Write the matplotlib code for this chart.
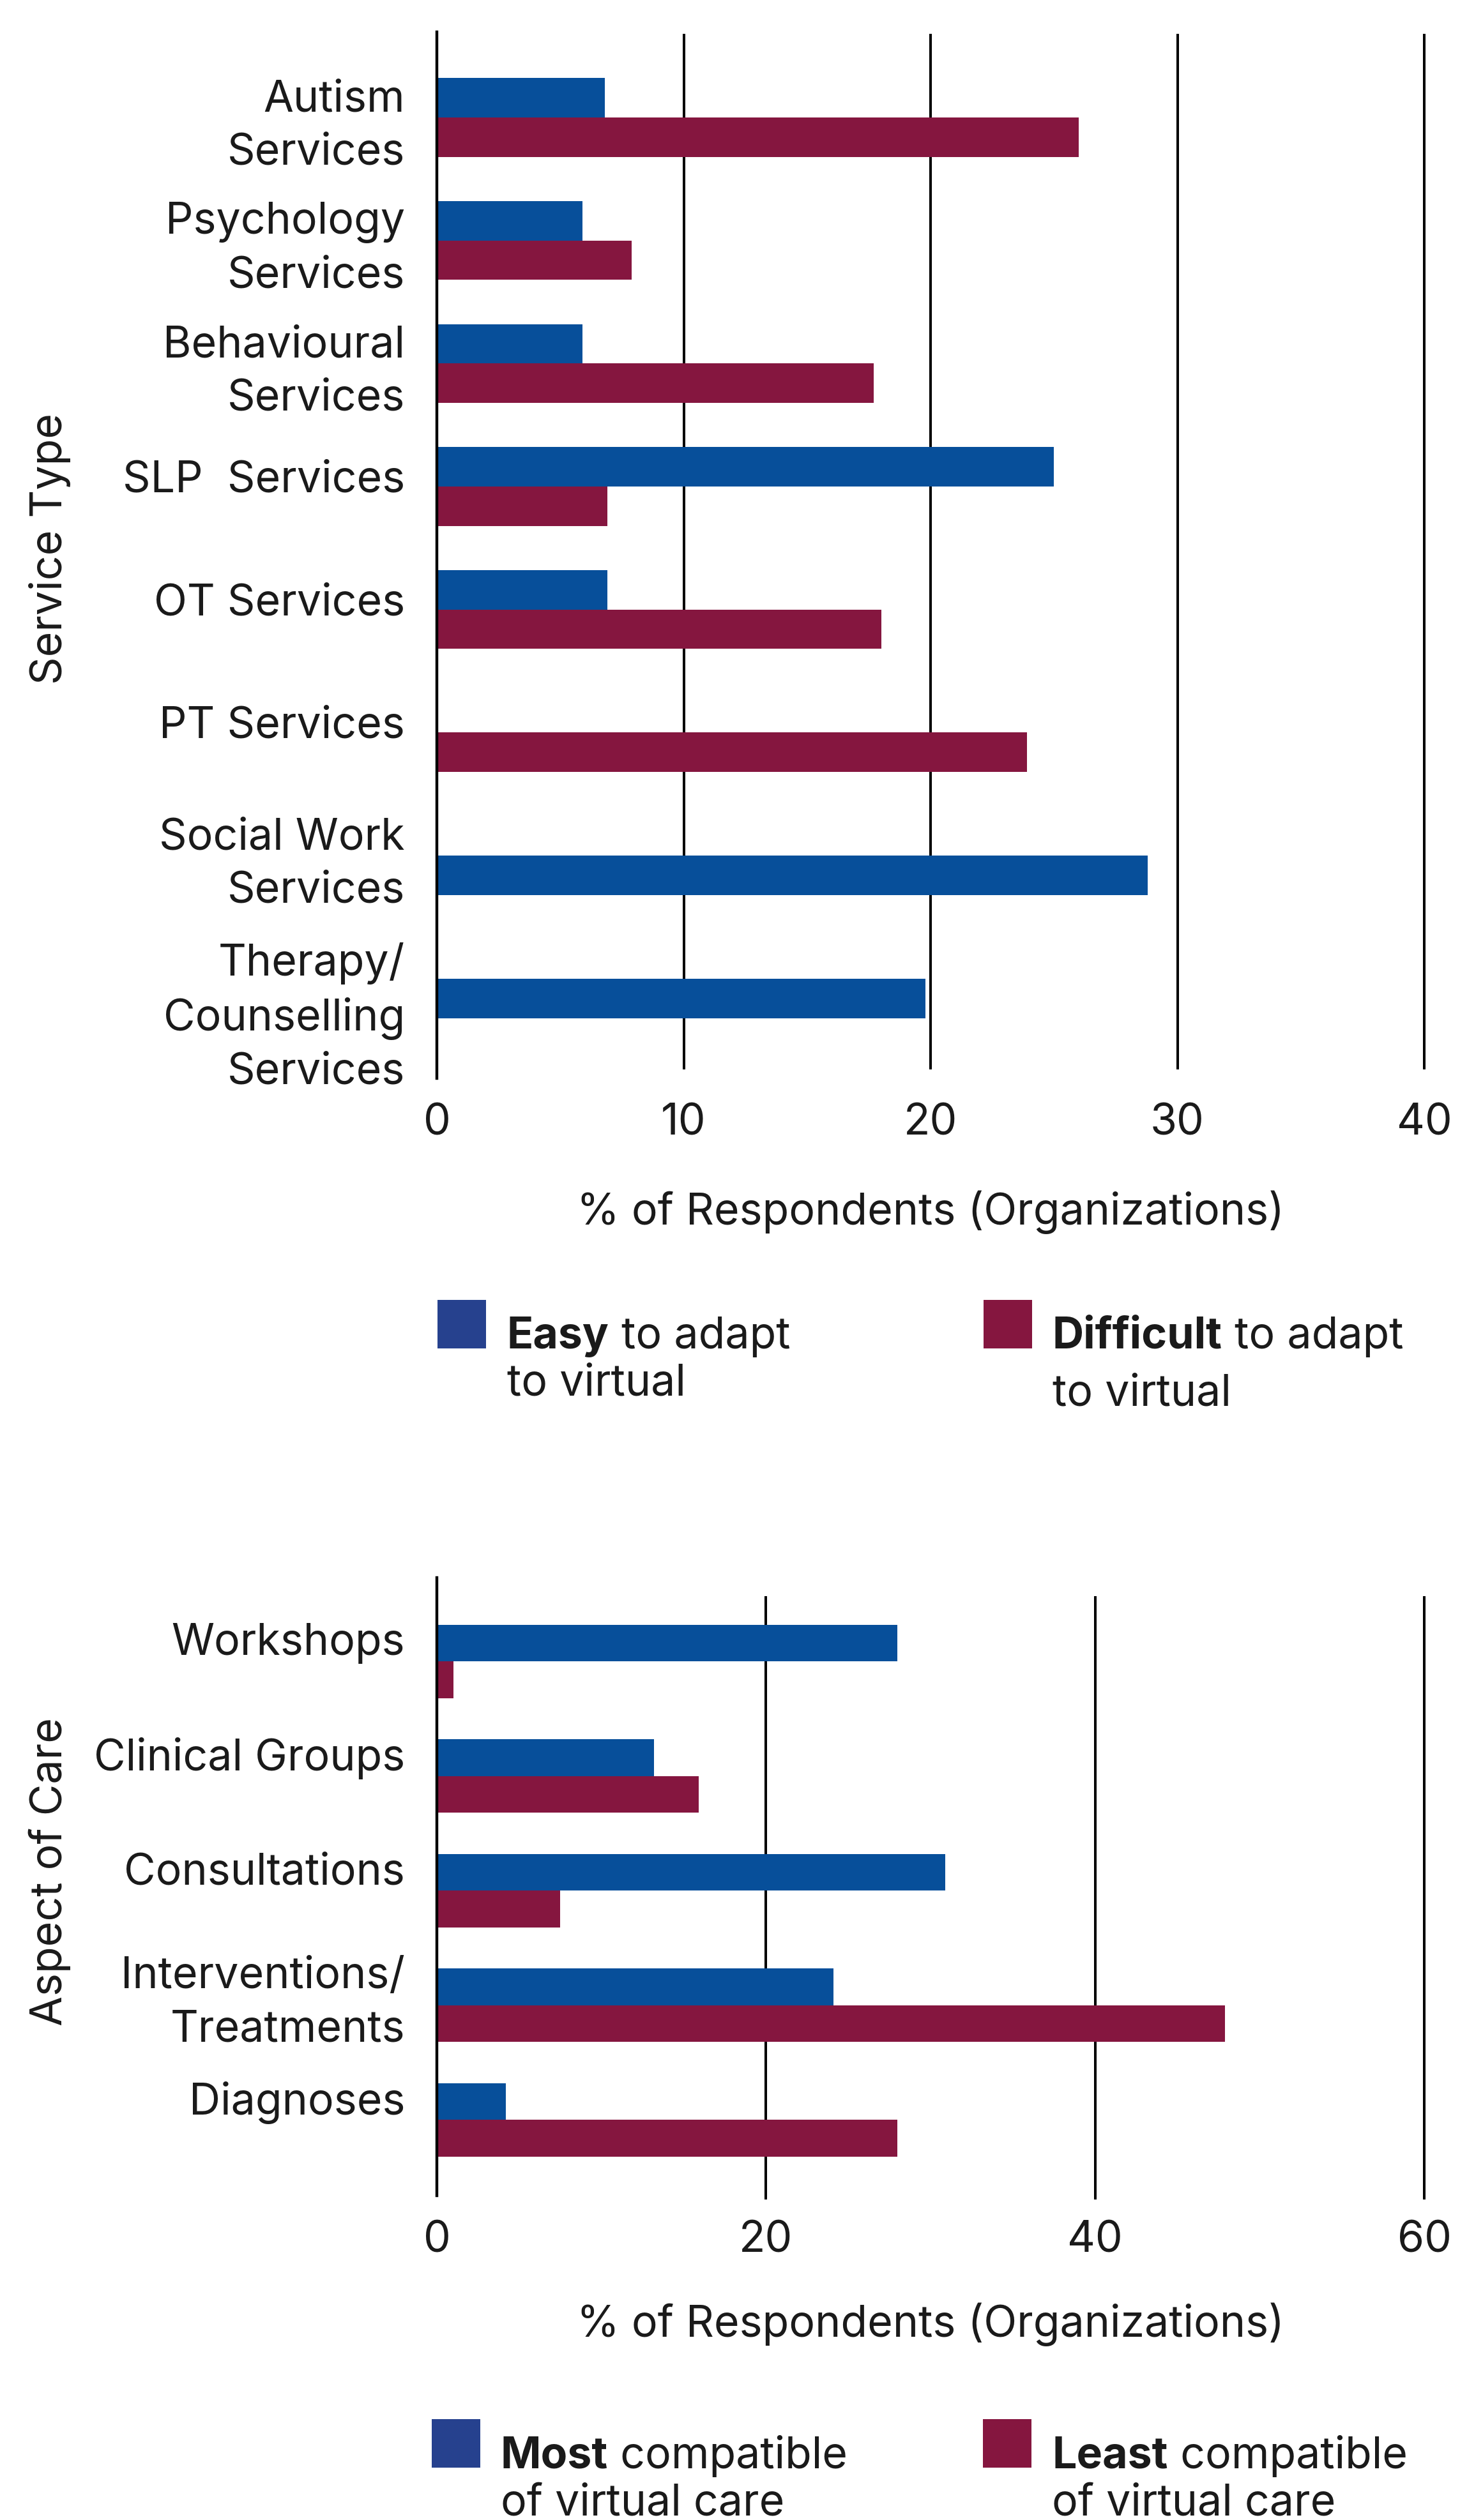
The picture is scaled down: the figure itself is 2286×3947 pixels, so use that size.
import numpy as np
import matplotlib
matplotlib.use('Agg')
import matplotlib.pyplot as plt
from matplotlib.patches import Rectangle
from matplotlib.transforms import ScaledTranslation

plt.rcParams['font.family'] = ['Inter', 'DejaVu Sans']

# Service types (top chart)
services = ['Autism\nServices', 'Psychology\nServices', 'Behavioural\nServices',
            'SLP  Services', 'OT Services', 'PT Services',
            'Social Work\nServices', 'Therapy/\nCounselling\nServices']
easy = [6.8, 5.9, 5.9, 25.0, 6.9, 0, 28.8, 19.8]
difficult = [26.0, 7.9, 17.7, 6.9, 18.0, 23.9, 0, 0]
service_ticks = [0, 10, 20, 30, 40]

# Aspects of care (bottom chart)
aspects = ['Workshops', 'Clinical Groups', 'Consultations',
           'Interventions/\nTreatments', 'Diagnoses']
most = [28.0, 13.2, 30.9, 24.1, 4.2]
least = [1.0, 15.9, 7.5, 47.9, 28.0]
aspect_ticks = [0, 20, 40, 60]

BLUE = '#074F9A'
RED = '#85163F'
LEG_BLUE = '#26418E'
TXT = '#1a1a1a'
FS = 49

W, H = 2286, 3947
DPI = 100
fig = plt.figure(figsize=(W / DPI, H / DPI), dpi=DPI)


def box(left, top, right, bottom):
    return [left / W, 1 - bottom / H, (right - left) / W, (bottom - top) / H]


def chart(ax, labels, first, second, ticks, ylim, ylabel, grid_span, xlab_y, ylab_y, shifts):
    first = np.array(first, dtype=float)
    second = np.array(second, dtype=float)
    y = np.arange(len(labels))
    h = 0.32
    # blue bar drops into the lower slot when there's no red bar
    off = np.where(second > 0, -h / 2, h / 2)
    ax.barh(y + off, first, height=h, color=BLUE, linewidth=0)
    ax.barh(y + h / 2, second, height=h, color=RED, linewidth=0)
    ax.set_xlim(ticks[0], ticks[-1])
    ax.set_ylim(*ylim)
    for t in ticks[1:]:
        ax.axvline(t, ymin=grid_span[0], ymax=grid_span[1], color='black',
                   lw=2.9, clip_on=False, zorder=0.5)
    for s in ['top', 'right', 'bottom']:
        ax.spines[s].set_visible(False)
    ax.spines['left'].set_linewidth(3.2)
    ax.spines['left'].set_color('black')
    ax.set_xticks(ticks)
    ax.set_yticks(y)
    ax.set_yticklabels(labels, fontsize=FS, color=TXT, linespacing=1.38)
    ax.tick_params(axis='x', length=0, pad=28, labelsize=FS, labelcolor=TXT)
    ax.tick_params(axis='y', length=0, pad=36)
    # nudge labels vertically depending on how many lines they have
    for lab in ax.get_yticklabels():
        n = lab.get_text().count('\n') + 1
        dy = shifts.get(n, 0)
        lab.set_transform(lab.get_transform()
                          + ScaledTranslation(0, dy / 72, fig.dpi_scale_trans))
    ax.text(0.5, xlab_y, '% of Respondents (Organizations)', transform=ax.transAxes,
            ha='center', va='center', fontsize=FS, color=TXT)
    ax.text(-0.392, ylab_y, ylabel, transform=ax.transAxes, rotation=90,
            ha='center', va='center', fontsize=FS, color=TXT)


ax1 = fig.add_axes(box(684, 50, 2230, 1689))
chart(ax1, services, easy, difficult, service_ticks, (7.81, -0.695), 'Service Type',
      (0.010, 0.997), -0.128, 0.506, {1: 12, 2: 2, 3: -32})

ax2 = fig.add_axes(box(684, 2471, 2230, 3439))
chart(ax2, aspects, most, least, aspect_ticks, (4.66, -0.73), 'Aspect of Care',
      (-0.004, 0.968), -0.208, 0.524, {1: 25, 2: 14})


def legend_item(x_sq, top_sq, color, bold, rest, line2, x_txt, base1, base2):
    fig.patches.append(Rectangle((x_sq / W, 1 - (top_sq + 76) / H), 76 / W, 76 / H,
                                 transform=fig.transFigure, color=color, lw=0))
    t1 = fig.text(x_txt / W, 1 - base1 / H, bold, fontsize=FS, fontweight='bold',
                  color=TXT, va='baseline', ha='left')
    fig.canvas.draw()
    bb = t1.get_window_extent()
    fig.text(bb.x1 / W, 1 - base1 / H, ' ' + rest, fontsize=FS, color=TXT,
             va='baseline', ha='left')
    fig.text(x_txt / W, 1 - base2 / H, line2, fontsize=FS, color=TXT,
             va='baseline', ha='left')


legend_item(685, 2036, LEG_BLUE, 'Easy', 'to adapt', 'to virtual', 794, 2112, 2185)
legend_item(1540, 2036, RED, 'Difficult', 'to adapt', 'to virtual', 1648, 2112, 2202)
legend_item(676, 3789, LEG_BLUE, 'Most', 'compatible', 'of virtual care', 784, 3866, 3939)
legend_item(1539, 3789, RED, 'Least', 'compatible', 'of virtual care', 1647, 3866, 3939)

fig.savefig('out.png', dpi=DPI, facecolor='white')
